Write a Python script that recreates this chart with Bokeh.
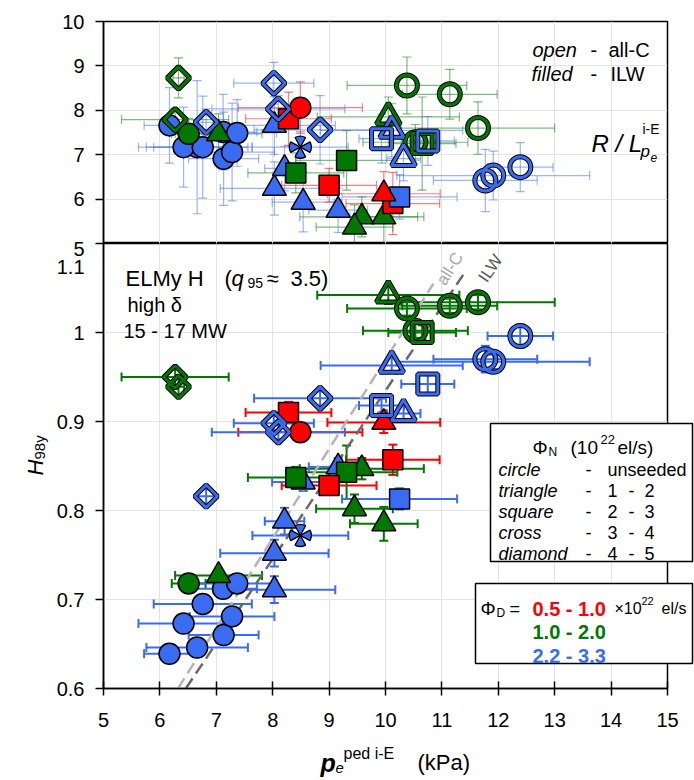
import math
import pandas as pd
from bokeh.plotting import figure
from bokeh.models import ColumnDataSource, Range1d, FixedTicker, Whisker, TeeHead, Label, BoxAnnotation
from bokeh.layouts import column
from bokeh.embed import file_html
from bokeh.resources import INLINE

# ---------------- data ----------------
phi_d = ["b", "b", "b", "b", "b", "b", "b", "b", "g", "g",
         "b", "b", "b", "b", "b", "b", "g", "g", "r", "r",
         "r", "g", "g", "g", "b", "r", "r", "b", "b", "b",
         "b", "g", "g", "g", "g", "g", "g", "g", "g", "b",
         "b", "b", "b", "b", "b", "b"]
shape = ["circle"] * 8 + ["circle", "triangle"] + ["triangle"] * 5 + ["cross"] + \
        ["square", "square", "square", "square", "square", "triangle", "triangle", "triangle",
         "square", "circle", "triangle", "diamond", "diamond", "diamond", "diamond",
         "diamond", "diamond", "triangle", "circle", "circle", "circle", "circle", "square",
         "circle", "circle", "circle", "triangle", "triangle", "square", "square"]
wall = ["ILW"] * 27 + ["C"] * 19
p_ped = [6.17, 6.66, 7.13, 6.42, 7.28, 6.76, 7.12, 7.37, 6.51, 7.04,
         8.03, 8.03, 8.21, 8.54, 9.16, 8.49, 8.41, 9.31, 9.00, 10.13,
         8.28, 9.58, 9.45, 9.97, 10.25, 8.49, 9.97, 6.82, 8.84, 8.02,
         8.10, 6.27, 6.33, 10.05, 10.38, 11.14, 11.64, 10.53, 10.65, 12.39,
         11.77, 11.91, 10.11, 10.32, 10.75, 9.93]
p_err = [0.45, 0.90, 0.62, 0.80, 0.75, 0.87, 0.60, 0.70, 0.30, 0.77,
         1.08, 0.96, 0.35, 0.55, 0.52, 0.85, 0.85, 0.90, 0.84, 0.83,
         0.76, 1.10, 0.68, 0.60, 1.02, 1.10, 1.00, 0.15, 1.17, 0.71,
         1.18, 0.95, 0.10, 1.26, 1.06, 0.84, 1.36, 0.93, 0.60, 0.58,
         0.92, 1.71, 1.26, 0.30, 0.47, 0.40]
h98 = [0.639, 0.646, 0.660, 0.673, 0.681, 0.695, 0.712, 0.718, 0.718, 0.727,
       0.711, 0.752, 0.788, 0.832, 0.849, 0.772, 0.837, 0.843, 0.828, 0.857,
       0.910, 0.847, 0.802, 0.785, 0.813, 0.888, 0.899, 0.816, 0.926, 0.898,
       0.888, 0.950, 0.939, 1.042, 1.027, 1.030, 1.034, 1.002, 1.000, 0.996,
       0.970, 0.967, 0.963, 0.909, 0.942, 0.918]
h98_err = [0.005, 0.005, 0.006, 0.005, 0.005, 0.005, 0.005, 0.005, 0.006, 0.006,
           0.015, 0.015, 0.015, 0.010, 0.010, 0.010, 0.012, 0.030, 0.010, 0.017,
           0.012, 0.012, 0.016, 0.019, 0.012, 0.010, 0.012, 0.008, 0.008, 0.008,
           0.008, 0.010, 0.010, 0.010, 0.008, 0.008, 0.008, 0.008, 0.008, 0.013,
           0.015, 0.008, 0.008, 0.008, 0.010, 0.008]
rl = [7.66, 7.17, 6.91, 7.17, 7.06, 7.17, 7.51, 7.49, 7.47, 7.47,
      7.66, 6.24, 6.69, 5.93, 5.75, 7.17, 6.59, 6.87, 6.31, 5.90,
      7.81, 5.60, 5.37, 5.60, 6.05, 8.06, 6.12, 7.73, 7.56, 8.61,
      8.03, 7.79, 8.73, 7.85, 8.56, 8.36, 7.60, 7.28, 7.25, 6.72,
      6.42, 6.53, 7.55, 6.91, 7.31, 7.36]
rl_err = [0.85, 1.50, 1.05, 0.90, 1.10, 1.15, 0.85, 0.75, 0.35, 0.45,
          0.65, 0.60, 0.50, 0.67, 0.50, 0.35, 0.45, 0.67, 0.38, 0.70,
          0.60, 0.45, 0.50, 0.60, 0.50, 0.58, 0.50, 0.30, 0.77, 0.47,
          0.30, 0.25, 0.45, 0.45, 0.64, 0.56, 0.59, 0.40, 1.05, 0.55,
          0.70, 0.55, 0.60, 0.50, 0.55, 0.55]

# scaling-law lines (all-C and ILW)
allc_p = [6.32, 10.85]
allc_h = [0.60, 1.055]
ilw_p = [6.46, 11.40]
ilw_h = [0.60, 1.067]

x_ticks = [5, 6, 7, 8, 9, 10, 11, 12, 13, 14, 15]
h98_ticks = [0.6, 0.7, 0.8, 0.9, 1.0, 1.1]
rl_ticks = [5, 6, 7, 8, 9, 10]
phi_d_ranges = ["0.5 - 1.0", "1.0 - 2.0", "2.2 - 3.3"]
phi_n_shapes = ["circle", "triangle", "square", "cross", "diamond"]
phi_n_values = [["unseeded"], ["1", "2"], ["2", "3"], ["3", "4"], ["4", "5"]]

# ---------------- styles ----------------
FONT = "Liberation Sans"
COL = {"r": "#ff0000", "g": "#007800", "b": "#3a6cf2"}
MARK = {"circle": ("circle", 21, 0.0), "triangle": ("triangle", 24, 0.0),
        "square": ("square", 20, 0.0), "diamond": ("square", 16, math.pi / 4)}

df = pd.DataFrame(dict(c=phi_d, shape=shape, wall=wall, p=p_ped, perr=p_err,
                       h=h98, herr=h98_err, rl=rl, rlerr=rl_err))

W = 694
xr = Range1d(5, 15)
top = figure(width=W, height=243, x_range=xr, y_range=Range1d(5, 10),
             output_backend="svg", toolbar_location=None, x_axis_location=None,
             min_border_left=103, min_border_right=27, min_border_top=21, min_border_bottom=0)
bot = figure(width=W, height=535, x_range=xr, y_range=Range1d(0.6, 1.1),
             output_backend="svg", toolbar_location=None,
             min_border_left=103, min_border_right=27, min_border_top=0, min_border_bottom=90)

for f, yt in ((top, rl_ticks), (bot, h98_ticks)):
    f.outline_line_color = "black"
    f.outline_line_width = 1.5
    f.outline_line_alpha = 1
    f.background_fill_color = "white"
    f.border_fill_color = "white"
    f.xgrid.ticker = FixedTicker(ticks=x_ticks)
    f.ygrid.ticker = FixedTicker(ticks=yt)
    f.xgrid.grid_line_color = "#e4e4e4"
    f.ygrid.grid_line_color = "#e4e4e4"
    ya = f.yaxis[0]
    ya.ticker = FixedTicker(ticks=yt)
    ya.major_tick_in = 0
    ya.major_tick_out = 8
    ya.minor_tick_line_color = None
    ya.axis_line_width = 1.5
    ya.major_tick_line_width = 1.5
    ya.major_label_text_font = FONT
    ya.major_label_text_font_size = "20px"
    ya.major_label_text_color = "black"
    ya.major_label_standoff = 11

# the two labels on the shared border are drawn as free text further down
top.yaxis[0].major_label_overrides = {5: ""}
bot.yaxis[0].major_label_overrides = {1.1: ""}
xa = bot.xaxis[0]
xa.ticker = FixedTicker(ticks=x_ticks)
xa.major_tick_in = 7
xa.major_tick_out = 7
xa.minor_tick_line_color = None
xa.axis_line_width = 1.5
xa.major_tick_line_width = 1.5
xa.major_label_text_font = FONT
xa.major_label_text_font_size = "20px"
xa.major_label_text_color = "black"
xa.major_label_standoff = 17


def whiskers(fig, d, ycol, ecol, color, width, alpha):
    src = ColumnDataSource(dict(x=d.p, xl=d.p - d.perr, xu=d.p + d.perr,
                                y=d[ycol], yl=d[ycol] - d[ecol], yu=d[ycol] + d[ecol]))
    for base, lo, up, dim in (("y", "xl", "xu", "width"), ("x", "yl", "yu", "height")):
        def head():
            return TeeHead(size=9, line_color=color, line_width=width, line_alpha=alpha)
        fig.add_layout(Whisker(source=src, base=base, lower=lo, upper=up, dimension=dim,
                               line_color=color, line_width=width, line_alpha=alpha,
                               upper_head=head(), lower_head=head(), level="underlay"))


def markers(fig, d, ycol, color, shp, wl):
    src = ColumnDataSource(dict(x=d.p, y=d[ycol]))
    if shp == "cross":
        for a in (0, math.pi / 2, math.pi, 3 * math.pi / 2):
            fig.wedge(x="x", y="y", source=src, radius=11, radius_units="screen",
                      start_angle=a - 0.5, end_angle=a + 0.5,
                      fill_color=color, line_color="black", line_width=1.3)
        return
    m, s, ang = MARK[shp]
    if wl == "ILW":
        fig.scatter(x="x", y="y", source=src, marker=m, size=s, angle=ang,
                    fill_color=color, line_color="black", line_width=1.5)
    else:
        fig.scatter(x="x", y="y", source=src, marker=m, size=s, angle=ang,
                    fill_color=None, line_color="black", line_width=5)
        fig.scatter(x="x", y="y", source=src, marker=m, size=s, angle=ang,
                    fill_color=None, line_color=color, line_width=3)


# scaling lines
bot.line(allc_p, allc_h, line_color="#b4b4b4", line_width=2.5, line_dash="12 6")
bot.line(ilw_p, ilw_h, line_color="#6a6a6a", line_width=2.5, line_dash="12 6")

for c in ("r", "g", "b"):
    d = df[df.c == c]
    whiskers(top, d, "rl", "rlerr", COL[c], 1.2, 0.5)
    whiskers(bot, d, "h", "herr", COL[c], 2, 1.0)

for (c, shp, wl), d in df.groupby(["c", "shape", "wall"], sort=False):
    markers(top, d, "rl", COL[c], shp, wl)
    markers(bot, d, "h", COL[c], shp, wl)

# ---------------- free text layer (page pixel coordinates) ----------------
OVH = 779
ov = figure(width=W, height=OVH, x_range=Range1d(0, W), y_range=Range1d(OVH, 0),
            output_backend="svg", toolbar_location=None,
            x_axis_location=None, y_axis_location=None,
            min_border_left=0, min_border_right=0, min_border_top=0, min_border_bottom=0,
            outline_line_color=None, background_fill_color=None, border_fill_color=None,
            styles={"position": "absolute", "top": "0px", "left": "0px"})
ov.grid.visible = False


def put(text, px, py, size, style="normal", color="black", align="left", angle=0.0):
    ov.add_layout(Label(x=px, y=py, text=text, text_font=FONT, text_font_size=f"{size}px",
                        text_font_style=style, text_color=color, text_align=align,
                        text_baseline="alphabetic", angle=angle))


def box(l, t, r, b):
    ov.add_layout(BoxAnnotation(left=l, right=r, top=t, bottom=b,
                                fill_color="white", fill_alpha=1, line_color="black",
                                line_width=1.5, line_alpha=1))


# tick labels on the shared border
put("5", 84, 248, 20, align="right")
put("1.1", 84, 266, 20, align="right")

# top panel
put("open", 532, 49, 20, "italic")
put("-", 590, 49, 20)
put("all-C", 608, 49, 20)
put("filled", 531, 73, 20, "italic")
put("-", 590, 73, 20)
put("ILW", 610, 73, 20)
put("R / L", 591, 143, 24, "italic")
put("i-E", 642, 128, 14)
put("p", 640, 151, 17, "italic")
put("e", 650, 157, 12, "italic")

# bottom panel header
put("ELMy H", 125, 278, 22)
put("(", 224, 278, 22)
put("q", 231, 278, 22, "italic")
put("95", 247, 282, 14)
put("\u2248", 266, 278, 22)
put("3.5)", 290, 278, 22)
put("high \u03b4", 127, 304, 20)
put("15 - 17 MW", 123, 330, 20)

# scaling-law labels
put("all-C", 440, 283, 17, color="#a8a8a8", angle=1.007)
put("ILW", 482, 280, 17, color="#5a5a5a", angle=0.981)

# axis titles
put("H", 35, 475, 22, "italic", angle=math.pi / 2)
put("98y", 39, 459, 15, angle=math.pi / 2)
put("p", 320, 762, 25, "bold italic")
put("e", 335, 767, 15, "italic")
put("ped i-E", 343, 753, 16)
put("(kPa)", 417, 762, 22)

# legend box: seeding
box(490, 423, 692, 561)
put("\u03a6", 532, 447, 19)
put("N", 548, 451, 12)
put("(10", 570, 447, 19)
put("22", 600, 439, 13)
put("el/s)", 617, 447, 19)
for i, (nm, vals) in enumerate(zip(phi_n_shapes, phi_n_values)):
    yb = 469 + i * 21
    put(nm, 498, yb, 18, "italic")
    put("-", 585, yb, 18)
    if len(vals) == 1:
        put(vals[0], 607, yb, 18)
    else:
        put(vals[0], 607, yb, 18)
        put("-", 628, yb, 18)
        put(vals[1], 644, yb, 18)

# legend box: deuterium
box(475, 583, 692, 663)
put("\u03a6", 480, 608, 19)
put("D", 496, 612, 12)
put("=", 509, 608, 18)
for i, (rng, c) in enumerate(zip(phi_d_ranges, ("r", "g", "b"))):
    put(rng, 532, 608 + i * 23.5, 20, "bold", COL[c])
put("\u00d710", 614, 608, 16)
put("22", 641, 600, 11)
put("el/s", 661, 608, 16)

layout = column(top, bot)
open("out.html", "w").write(file_html([layout, ov], INLINE))
